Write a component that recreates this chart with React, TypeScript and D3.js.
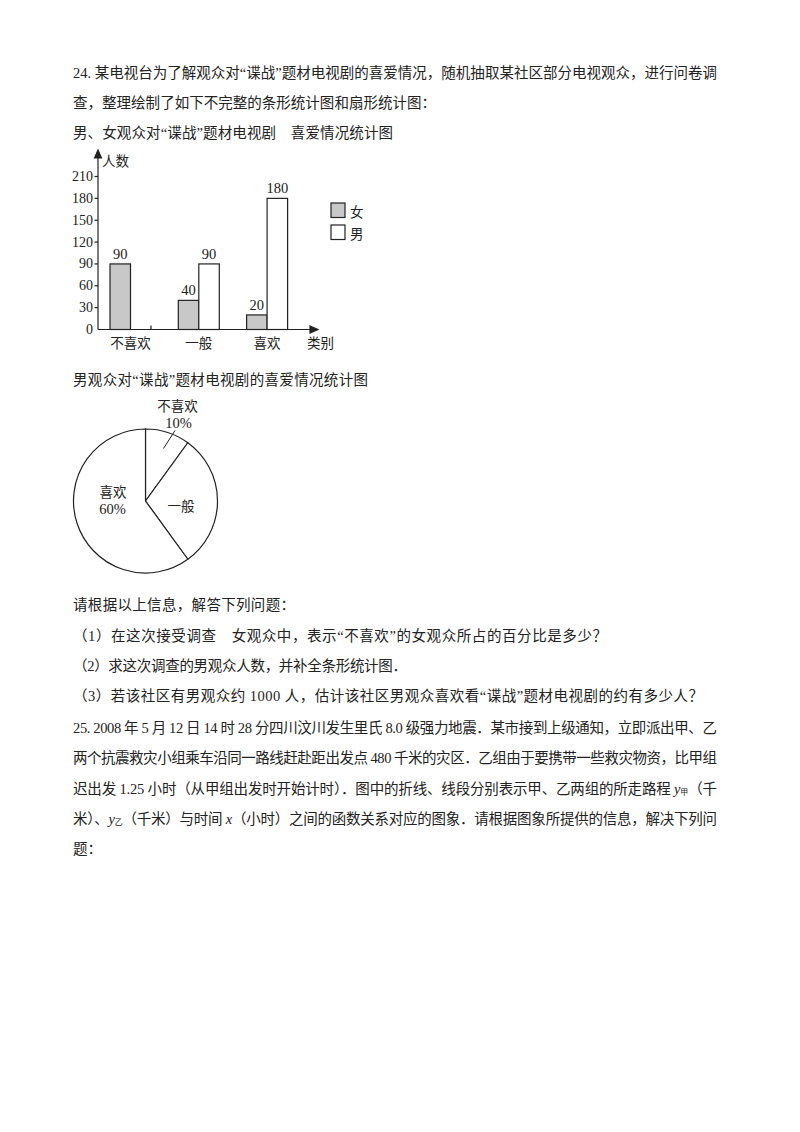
import React from "react";
import * as d3 from "d3";

const categories = ["不喜欢", "一般", "喜欢"];
const femaleValues = [90, 40, 20];
const maleValues = [null, 90, 180] as (number | null)[];
const yTicks = [0, 30, 60, 90, 120, 150, 180, 210];
const legendItems = ["女", "男"];

const pieLabels = ["不喜欢", "一般", "喜欢"];
const pieShares = [10, 30, 60];

const textLines: { text: string; y: number; end?: number }[] = [
  { text: "24. 某电视台为了解观众对“谍战”题材电视剧的喜爱情况，随机抽取某社区部分电视观众，进行问卷调", y: 73, end: 717 },
  { text: "查，整理绘制了如下不完整的条形统计图和扇形统计图：", y: 103, end: 436 },
  { text: "男、女观众对“谍战”题材电视剧　喜爱情况统计图", y: 133, end: 393 },
  { text: "男观众对“谍战”题材电视剧的喜爱情况统计图", y: 380, end: 368 },
  { text: "请根据以上信息，解答下列问题：", y: 605, end: 295 },
  { text: "（1）在这次接受调查　女观众中，表示“不喜欢”的女观众所占的百分比是多少？", y: 636, end: 607 },
  { text: "（2）求这次调查的男观众人数，并补全条形统计图．", y: 666, end: 407 },
  { text: "（3）若该社区有男观众约 1000 人，估计该社区男观众喜欢看“谍战”题材电视剧的约有多少人？", y: 696, end: 703 },
  { text: "25. 2008 年 5 月 12 日 14 时 28 分四川汶川发生里氏 8.0 级强力地震．某市接到上级通知，立即派出甲、乙", y: 728, end: 717 },
  { text: "两个抗震救灾小组乘车沿同一路线赶赴距出发点 480 千米的灾区．乙组由于要携带一些救灾物资，比甲组", y: 758, end: 717 },
];

const FONT = "'Liberation Serif', 'Noto Sans CJK SC', serif";
const CJK = "'Noto Sans CJK SC', sans-serif";

export default function App() {
  const left = 73;
  const y = d3.scaleLinear().domain([0, 210]).range([329.5, 176.5]);
  const x0 = d3.scaleBand().domain(categories).range([110, 314.9]).paddingInner(0).paddingOuter(0);
  const barW = 20.5;
  const y0 = y(0);

  const cx = 145.5, cy = 501, r = 72;
  const pie = d3.pie<number>().sort(null).value((d) => d)(pieShares);
  const arc = d3.arc<d3.PieArcDatum<number>>().innerRadius(0).outerRadius(r);

  return (
    <svg width={800} height={1132} style={{ position: "absolute", left: 0, top: 0, background: "#fff" }}>
      <rect width={800} height={1132} fill="#fff" />
      <g fontFamily={FONT} fontSize={14.5} fill="#222">
        {textLines.map((l, i) => (
          <text key={i} x={left} y={l.y} dominantBaseline="central" textLength={l.end ? l.end - left : undefined} lengthAdjust="spacing">
            {l.text}
          </text>
        ))}
        <text x={left} y={789} dominantBaseline="central" textLength={717 - left} lengthAdjust="spacing">
          迟出发 1.25 小时（从甲组出发时开始计时）．图中的折线、线段分别表示甲、乙两组的所走路程
          <tspan fontStyle="italic"> y</tspan>
          <tspan fontSize={8} dy={3}>甲</tspan>
          <tspan dy={-3}>（千</tspan>
        </text>
        <text x={left} y={819} dominantBaseline="central" textLength={717 - left} lengthAdjust="spacing">
          米）、
          <tspan fontStyle="italic">y</tspan>
          <tspan fontSize={8} dy={3}>乙</tspan>
          <tspan dy={-3}>（千米）与时间 </tspan>
          <tspan fontStyle="italic">x</tspan>
          （小时）之间的函数关系对应的图象．请根据图象所提供的信息，解决下列问
        </text>
        <text x={left} y={849} dominantBaseline="central">题：</text>
      </g>

      {/* Bar chart */}
      <g stroke="#222" fill="none" strokeWidth={1.2}>
        <line x1={98} y1={y0} x2={98} y2={152} />
        <path d={`M94.5,158 L98,150 L101.5,158 Z`} fill="#222" />
        <line x1={98} y1={y0} x2={313} y2={y0} />
        <path d={`M310,${y0 - 3.5} L318,${y0} L310,${y0 + 3.5} Z`} fill="#222" />
        {yTicks.filter((t) => t > 0).map((t) => (
          <line key={t} x1={94.5} x2={98} y1={y(t)} y2={y(t)} />
        ))}
      </g>
      <g fontFamily={FONT} fontSize={14} fill="#222" textAnchor="end">
        {yTicks.map((t) => (
          <text key={t} x={93} y={y(t)} dominantBaseline="central">{t}</text>
        ))}
      </g>
      <text x={102} y={160} fontFamily={CJK} fontSize={13.5} fill="#222" dominantBaseline="central">人数</text>
      <text x={307} y={342} fontFamily={CJK} fontSize={13.5} fill="#222" dominantBaseline="central">类别</text>
      {categories.map((c, i) => {
        const gx = x0(c)!;
        const f = femaleValues[i];
        const m = maleValues[i];
        return (
          <g key={c}>
            <rect x={gx} y={y(f)} width={barW} height={y0 - y(f)} fill="#c8c8c8" stroke="#222" strokeWidth={1.2} />
            <text x={gx + barW / 2} y={y(f) - 10} textAnchor="middle" dominantBaseline="central" fontFamily={FONT} fontSize={14.5} fill="#222">{f}</text>
            {m !== null ? (
              <>
                <rect x={gx + barW} y={y(m)} width={barW} height={y0 - y(m)} fill="#fff" stroke="#222" strokeWidth={1.2} />
                <text x={gx + barW * 1.5} y={y(m) - 10} textAnchor="middle" dominantBaseline="central" fontFamily={FONT} fontSize={14.5} fill="#222">{m}</text>
              </>
            ) : (
              <line x1={gx + barW * 2} x2={gx + barW * 2} y1={y0} y2={y0 - 4} stroke="#222" strokeWidth={1.2} />
            )}
            <text x={gx + barW} y={342} textAnchor="middle" dominantBaseline="central" fontFamily={CJK} fontSize={13.5} fill="#222">{c}</text>
          </g>
        );
      })}
      {legendItems.map((l, i) => (
        <g key={l}>
          <rect x={331} y={203 + i * 22} width={14} height={14.5} fill={i === 0 ? "#c8c8c8" : "#fff"} stroke="#222" strokeWidth={1.2} />
          <text x={350} y={210.5 + i * 22} dominantBaseline="central" fontFamily={CJK} fontSize={13.5} fill="#222">{l}</text>
        </g>
      ))}

      {/* Pie chart */}
      <g transform={`translate(${cx},${cy})`}>
        {pie.map((p, i) => (
          <path key={i} d={arc(p) || ""} fill="#fff" stroke="#222" strokeWidth={1.2} />
        ))}
      </g>
      <line x1={175} y1={430.5} x2={163.5} y2={448.5} stroke="#222" strokeWidth={1} />
      <g fontFamily={FONT} fontSize={14.5} fill="#222" textAnchor="middle">
        <text x={177.5} y={405} dominantBaseline="central" fontFamily={CJK} fontSize={13.5}>{pieLabels[0]}</text>
        <text x={178.5} y={422.5} dominantBaseline="central">{pieShares[0]}%</text>
        <text x={181} y={505} dominantBaseline="central" fontFamily={CJK} fontSize={13.5}>{pieLabels[1]}</text>
        <text x={113} y={490.5} dominantBaseline="central" fontFamily={CJK} fontSize={13.5}>{pieLabels[2]}</text>
        <text x={112.5} y={508.5} dominantBaseline="central">{pieShares[2]}%</text>
      </g>
    </svg>
  );
}
